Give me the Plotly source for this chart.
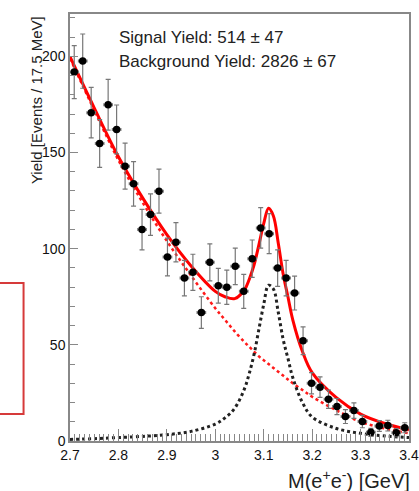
import plotly.graph_objects as go

# ---- data ----
bin_centers = [2.70875, 2.72625, 2.74375, 2.76125, 2.77875, 2.79625, 2.81375, 2.83125,
               2.84875, 2.86625, 2.88375, 2.90125, 2.91875, 2.93625, 2.95375, 2.97125,
               2.98875, 3.00625, 3.02375, 3.04125, 3.05875, 3.07625, 3.09375, 3.11125,
               3.12875, 3.14625, 3.16375, 3.18125, 3.19875, 3.21625, 3.23375, 3.25125,
               3.26875, 3.28625, 3.30375, 3.32125, 3.33875, 3.35625, 3.37375, 3.39125]
yields = [191.8, 197.5, 170.7, 154.7, 174.8, 162.0, 142.9, 133.7, 109.9, 117.7,
          129.9, 95.7, 103.3, 84.7, 87.7, 66.8, 92.9, 80.7, 79.9, 90.8,
          77.8, 94.8, 110.8, 107.8, 89.9, 84.7, 76.9, 52.1, 30.0, 28.0,
          21.7, 17.9, 12.7, 15.8, 10.1, 4.5, 7.8, 8.0, 4.3, 6.9]
yield_errors = [13.8, 14.1, 13.1, 12.4, 13.2, 12.7, 12.0, 11.6, 10.5, 10.8,
                11.4, 9.8, 10.2, 9.2, 9.4, 8.2, 9.6, 9.0, 8.9, 9.5,
                8.8, 9.7, 10.5, 10.4, 9.5, 9.2, 8.8, 7.2, 5.5, 5.3,
                4.7, 4.2, 3.6, 4.0, 3.2, 2.1, 2.8, 2.8, 2.1, 2.6]
half_bin = 0.00875

curve_x = [2.70, 2.75, 2.80, 2.85, 2.90, 2.95, 3.00, 3.02, 3.04, 3.06, 3.07, 3.08, 3.09,
           3.10, 3.11, 3.12, 3.13, 3.14, 3.15, 3.16, 3.18, 3.20, 3.25, 3.30, 3.35, 3.40]
signal_curve = [0.8, 1.2, 1.8, 2.4, 3.3, 5.0, 8.8, 12.0, 17.0, 27.0, 35.0, 45.0, 58.0,
                71.0, 81.0, 79.0, 67.0, 53.0, 43.0, 33.0, 20.0, 12.5, 6.5, 4.0, 2.6, 1.8]
background_curve = [199.0, 172.0, 146.0, 124.0, 104.0, 86.0, 69.0, 63.0, 57.0, 51.5, 49.0,
                     46.5, 44.0, 42.0, 40.0, 38.0, 36.0, 34.0, 32.0, 30.0, 26.5, 23.0,
                     16.0, 10.0, 6.5, 4.0]
total_curve = [199.8, 173.2, 147.8, 126.4, 107.3, 91.0, 77.8, 75.0, 74.0, 78.5, 84.0,
               91.5, 102.0, 113.0, 121.0, 117.0, 103.0, 87.0, 75.0, 63.0, 46.5, 35.5,
               22.5, 14.0, 9.1, 5.8]

x_ticks = [2.7, 2.8, 2.9, 3.0, 3.1, 3.2, 3.3, 3.4]
x_tick_labels = ["2.7", "2.8", "2.9", "3", "3.1", "3.2", "3.3", "3.4"]
y_ticks = [0, 50, 100, 150, 200]

FONT = "Liberation Sans, Arial, Helvetica, sans-serif"

fig = go.Figure()

fig.add_trace(go.Scatter(
    x=curve_x, y=background_curve, mode="lines",
    line=dict(color="#ff1a1a", width=2.5, dash="dot", shape="spline"),
    hoverinfo="skip", showlegend=False))
fig.add_trace(go.Scatter(
    x=curve_x, y=signal_curve, mode="lines",
    line=dict(color="#222222", width=3, dash="dot", shape="spline"),
    hoverinfo="skip", showlegend=False))
fig.add_trace(go.Scatter(
    x=curve_x, y=total_curve, mode="lines",
    line=dict(color="#ff0000", width=3, shape="spline"),
    hoverinfo="skip", showlegend=False))
fig.add_trace(go.Scatter(
    x=bin_centers, y=yields, mode="markers",
    marker=dict(color="black", size=7.5),
    error_y=dict(type="data", array=yield_errors, color="#777777", thickness=1.2, width=2.5),
    error_x=dict(type="constant", value=half_bin, color="#777777", thickness=1.2, width=1.5),
    showlegend=False))

fig.update_layout(
    width=419, height=491,
    margin=dict(l=70, r=10, t=14, b=50),
    paper_bgcolor="white", plot_bgcolor="white",
    font=dict(family=FONT, size=14, color="#111111"),
    xaxis=dict(range=[2.7, 3.4], tickvals=x_ticks, ticktext=x_tick_labels,
               ticks="inside", ticklen=12, tickcolor="#888888", tickwidth=1,
               minor=dict(dtick=0.01, ticks="inside", ticklen=7, tickcolor="#888888", tickwidth=1),
               showline=True, linecolor="#888888", linewidth=1.5, mirror=True,
               showgrid=False, zeroline=False, tickfont=dict(size=14), automargin=False),
    yaxis=dict(range=[0, 222], tickvals=y_ticks,
               ticks="inside", ticklen=8, tickcolor="#888888", tickwidth=1,
               minor=dict(dtick=10, ticks="inside", ticklen=5, tickcolor="#888888", tickwidth=1),
               showline=True, linecolor="#888888", linewidth=1.5, mirror=True,
               showgrid=False, zeroline=False, tickfont=dict(size=14), automargin=False),
)

fig.add_annotation(xref="paper", yref="paper", x=0.14, y=0.944, xanchor="left", yanchor="middle",
                   text="Signal Yield: 514 ± 47", showarrow=False,
                   font=dict(family=FONT, size=17, color="#222222"))
fig.add_annotation(xref="paper", yref="paper", x=0.14, y=0.888, xanchor="left", yanchor="middle",
                   text="Background Yield: 2826 ± 67", showarrow=False,
                   font=dict(family=FONT, size=17, color="#222222"))
fig.add_annotation(xref="paper", yref="paper", x=1.01, y=-0.091, xanchor="right", yanchor="middle",
                   text="M(e<sup>+</sup>e<sup>-</sup>) [GeV]", showarrow=False,
                   font=dict(family=FONT, size=20, color="#222222"))
fig.add_annotation(xref="paper", yref="paper", x=-0.10, y=1.0, xanchor="center", yanchor="top",
                   text="Yield [Events / 17.5 MeV]", textangle=-90, showarrow=False,
                   font=dict(family=FONT, size=15, color="#222222"))

fig.add_shape(type="rect", xref="paper", yref="paper",
              x0=-0.30, x1=-0.137, y0=0.063, y1=0.370,
              line=dict(color="#d63a3a", width=2), fillcolor="rgba(0,0,0,0)")

fig.write_html("out.html", config={"displayModeBar": False},
               post_script="document.body.style.margin='0px';")
